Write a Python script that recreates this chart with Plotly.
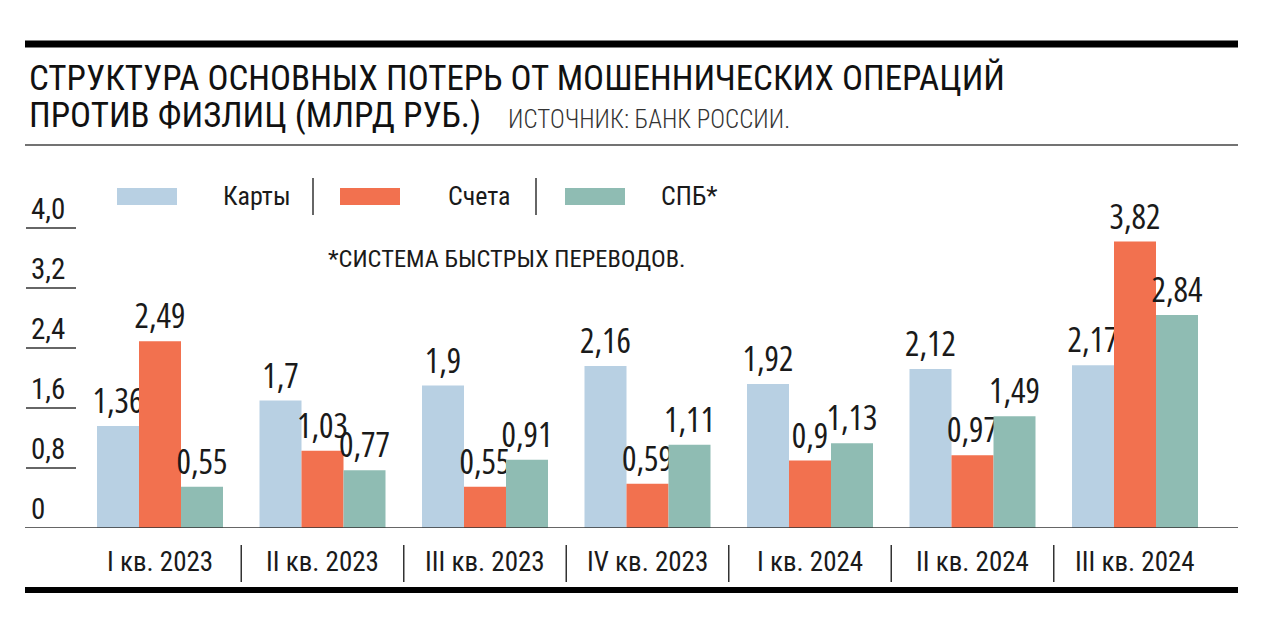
import plotly.graph_objects as go

W, H = 1280, 629

categories = ["I кв. 2023", "II кв. 2023", "III кв. 2023", "IV кв. 2023",
              "I кв. 2024", "II кв. 2024", "III кв. 2024"]
cards = [1.36, 1.7, 1.9, 2.16, 1.92, 2.12, 2.17]
accounts = [2.49, 1.03, 0.55, 0.59, 0.9, 0.97, 3.82]
sbp = [0.55, 0.77, 0.91, 1.11, 1.13, 1.49, 2.84]
series_names = ["Карты", "Счета", "СПБ*"]
colors = ["#b8d0e3", "#f2714f", "#8fbcb3"]
tick_vals = [0, 0.8, 1.6, 2.4, 3.2, 4.0]
tick_text = ["0", "0,8", "1,6", "2,4", "3,2", "4,0"]

title1 = "СТРУКТУРА ОСНОВНЫХ ПОТЕРЬ ОТ МОШЕННИЧЕСКИХ ОПЕРАЦИЙ"
title2 = "ПРОТИВ ФИЗЛИЦ (МЛРД РУБ.)"
source = "ИСТОЧНИК: БАНК РОССИИ."
footnote = "*СИСТЕМА БЫСТРЫХ ПЕРЕВОДОВ."

FONT = "Roboto Condensed, Liberation Sans Narrow, sans-serif"
NUMFONT = "Open Sans, Roboto Condensed, sans-serif"
INK = "#1a1a1a"


def px(x):
    return x / W


def py(y):
    return 1 - y / H


fig = go.Figure()
for name, vals, col in zip(series_names, [cards, accounts, sbp], colors):
    fig.add_trace(go.Bar(
        x=categories, y=vals, name=name, marker=dict(color=col, line=dict(width=0)),
        texttemplate="<span style='font-stretch:75%'>%{y}</span>",
        textposition="outside",
        textfont=dict(family=NUMFONT, size=34, color=INK),
        constraintext="none", cliponaxis=False, showlegend=False,
        hoverinfo="skip",
    ))

shapes = []
annotations = []

# top thick rule, thin rule, bottom thick rule, baseline
shapes.append(dict(type="line", xref="paper", yref="paper", x0=px(25), x1=px(1238),
                   y0=py(44), y1=py(44), line=dict(color="#000", width=7)))
shapes.append(dict(type="line", xref="paper", yref="paper", x0=px(25), x1=px(1238),
                   y0=py(145), y1=py(145), line=dict(color="#444", width=1.5)))
shapes.append(dict(type="line", xref="paper", yref="paper", x0=px(25), x1=px(1238),
                   y0=py(590), y1=py(590), line=dict(color="#000", width=6)))
shapes.append(dict(type="line", xref="paper", yref="y", x0=px(25), x1=px(1238),
                   y0=0, y1=0, line=dict(color="#333", width=1.5)))

# y tick underlines + labels
for v, t in zip(tick_vals, tick_text):
    if v > 0:
        shapes.append(dict(type="line", xref="paper", yref="y", x0=px(26), x1=px(76),
                           y0=v, y1=v, line=dict(color="#333", width=1.5)))
    annotations.append(dict(xref="paper", yref="y", x=px(29), y=v, text=t,
                            xanchor="left", yanchor="bottom", showarrow=False,
                            font=dict(family=FONT, size=29, color=INK)))

# category separators and labels
for i in range(len(categories) - 1):
    shapes.append(dict(type="line", xref="x", yref="paper", x0=i + 0.5, x1=i + 0.5,
                       y0=py(545), y1=py(582), line=dict(color="#333", width=1.5)))
for c in categories:
    annotations.append(dict(xref="x", yref="paper", x=c, y=py(562), text=c,
                            xanchor="center", yanchor="middle", showarrow=False,
                            font=dict(family=FONT, size=27, color=INK)))

# legend
leg_rects = [(117, 177), (340, 400), (565, 625)]
leg_text_x = [221, 446, 659]
for (a, b), tx, name, col in zip(leg_rects, leg_text_x, series_names, colors):
    shapes.append(dict(type="rect", xref="paper", yref="paper", x0=px(a), x1=px(b),
                       y0=py(205), y1=py(188), fillcolor=col, line=dict(width=0)))
    annotations.append(dict(xref="paper", yref="paper", x=px(tx), y=py(196), text=name,
                            xanchor="left", yanchor="middle", showarrow=False,
                            font=dict(family=FONT, size=26, color=INK)))
for sx in [313, 536]:
    shapes.append(dict(type="line", xref="paper", yref="paper", x0=px(sx), x1=px(sx),
                       y0=py(178), y1=py(215), line=dict(color="#333", width=1.5)))

annotations.append(dict(xref="paper", yref="paper", x=px(326), y=py(258), text=footnote,
                        xanchor="left", yanchor="middle", showarrow=False,
                        font=dict(family=FONT, size=24.5, color=INK)))

# titles
annotations.append(dict(xref="paper", yref="paper", x=px(27), y=py(78), text=title1,
                        xanchor="left", yanchor="middle", showarrow=False,
                        font=dict(family=FONT, size=35, color="#111")))
annotations.append(dict(xref="paper", yref="paper", x=px(27), y=py(115), text=title2,
                        xanchor="left", yanchor="middle", showarrow=False,
                        font=dict(family=FONT, size=35, color="#111")))
annotations.append(dict(xref="paper", yref="paper", x=px(506), y=py(120), text=source,
                        xanchor="left", yanchor="middle", showarrow=False,
                        font=dict(family=FONT, size=25, color="#333", weight=300)))

fig.update_layout(
    width=W, height=H, autosize=False,
    margin=dict(l=0, r=0, t=0, b=0),
    paper_bgcolor="white", plot_bgcolor="white",
    barmode="group", bargap=0.2246, bargroupgap=0,
    separators=", ",
    xaxis=dict(domain=[px(78.75), px(1216.25)], range=[-0.5, 6.5], showticklabels=False,
               showgrid=False, zeroline=False, showline=False, ticks="",
               fixedrange=True),
    yaxis=dict(domain=[py(528), py(153)], range=[0, 5], showticklabels=False,
               showgrid=False, zeroline=False, showline=False, ticks="",
               fixedrange=True),
    shapes=shapes, annotations=annotations,
)

fig.write_html("out.html", config={"displayModeBar": False},
               post_script="document.body.style.margin='0';")
